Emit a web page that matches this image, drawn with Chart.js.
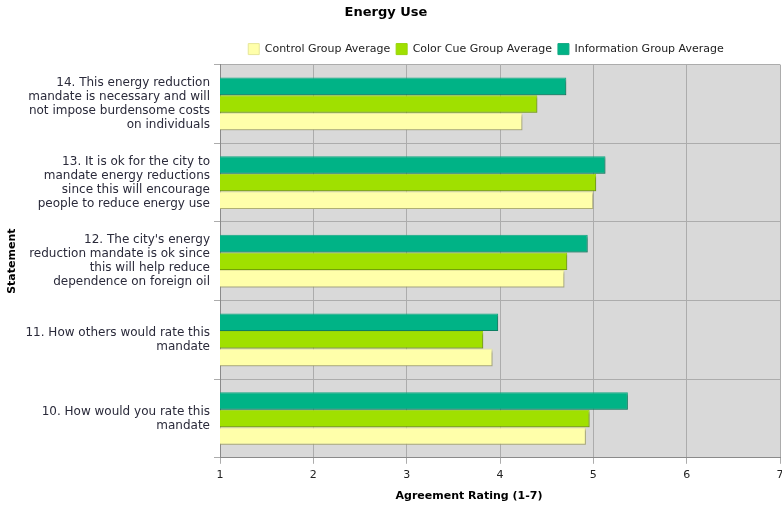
<!DOCTYPE html>
<html>
<head>
<meta charset="utf-8">
<script src="https://cdn.jsdelivr.net/npm/chart.js@4/dist/chart.umd.min.js"></script>
<style>
  html, body { margin: 0; padding: 0; background: #ffffff; }
  #wrap { width: 782px; height: 505px; }
</style>
</head>
<body>
<div id="wrap"><canvas id="c" width="782" height="505"></canvas></div>
<script>
// Categories, top to bottom as shown
const statements = [
  ["14. This energy reduction", "mandate is necessary and will", "not impose burdensome costs", "on individuals"],
  ["13. It is ok for the city to", "mandate energy reductions", "since this will encourage", "people to reduce energy use"],
  ["12. The city's energy", "reduction mandate is ok since", "this will help reduce", "dependence on foreign oil"],
  ["11. How others would rate this", "mandate"],
  ["10. How would you rate this", "mandate"]
];
const seriesNames = ["Control Group Average", "Color Cue Group Average", "Information Group Average"];
const controlAvg     = [4.24, 5.00, 4.69, 3.92, 4.92];
const colorCueAvg    = [4.40, 5.03, 4.72, 3.82, 4.96];
const informationAvg = [4.71, 5.13, 4.94, 3.98, 5.37];
const xTicks = [1, 2, 3, 4, 5, 6, 7];
const xTitle = 'Agreement Rating (1-7)';

const FONT = "'DejaVu Sans', Verdana, sans-serif";

const plotBg = {
  id: 'plotBg',
  beforeDraw(chart) {
    const {ctx, chartArea: a} = chart;
    ctx.save();
    ctx.fillStyle = '#d9d9d9';
    ctx.fillRect(a.left, a.top, a.right - a.left, a.bottom - a.top);
    ctx.restore();
  }
};
const barShadow = {
  id: 'barShadow',
  beforeDatasetsDraw(chart) {
    const ctx = chart.ctx;
    ctx.save();
    ctx.shadowColor = 'rgba(0,0,0,0.28)';
    ctx.shadowOffsetX = 2;
    ctx.shadowOffsetY = 2;
    ctx.shadowBlur = 2;
  },
  afterDatasetsDraw(chart) {
    chart.ctx.restore();
  }
};
// nudge title and legend blocks to where the original placed them
const nudge = {
  id: 'nudge',
  afterLayout(chart) {
    if (chart.titleBlock) { chart.titleBlock.left -= 6; chart.titleBlock.right -= 6; }
    if (chart.legend) { chart.legend.left -= 14; chart.legend.right -= 14; }
  }
};
// x axis title, drawn under the tick labels
const xAxisTitle = {
  id: 'xAxisTitle',
  afterDraw(chart) {
    const ctx = chart.ctx;
    const a = chart.chartArea;
    ctx.save();
    ctx.font = 'bold 11px ' + FONT;
    ctx.fillStyle = '#000';
    ctx.textAlign = 'center';
    ctx.textBaseline = 'middle';
    ctx.fillText(xTitle, (a.left + a.right) / 2 - 31, a.bottom + 38);
    ctx.restore();
  }
};

new Chart(document.getElementById('c'), {
  type: 'bar',
  data: {
    labels: statements,
    datasets: [
      { label: seriesNames[2], data: informationAvg, backgroundColor: '#00b386', borderColor: '#12a883', borderWidth: 1 },
      { label: seriesNames[1], data: colorCueAvg, backgroundColor: '#a0e000', borderColor: '#98d40a', borderWidth: 1 },
      { label: seriesNames[0], data: controlAvg, backgroundColor: '#ffffaa', borderColor: '#e6e69a', borderWidth: 1 }
    ]
  },
  options: {
    indexAxis: 'y',
    responsive: false,
    animation: false,
    devicePixelRatio: 1,
    layout: { padding: { left: 2, right: 0, top: 0, bottom: 18 } },
    datasets: { bar: { barPercentage: 1.0, categoryPercentage: 0.67 } },
    plugins: {
      title: {
        display: true,
        text: 'Energy Use',
        color: '#000',
        font: { family: FONT, size: 13, weight: 'bold' },
        padding: { top: 5, bottom: 17 }
      },
      legend: {
        position: 'top',
        reverse: true,
        fullSize: false,
        labels: {
          color: '#222',
          font: { family: FONT, size: 11 },
          boxWidth: 11,
          boxHeight: 11,
          padding: 6
        }
      },
      tooltip: { enabled: false }
    },
    scales: {
      x: {
        type: 'linear',
        min: 1,
        max: 7,
        afterBuildTicks(axis) { axis.ticks = xTicks.map(v => ({ value: v })); },
        afterFit(axis) { axis.paddingRight = 2; },
        grid: { color: '#acacac', tickLength: 6, drawTicks: true },
        border: { color: '#8a8a8a' },
        ticks: { color: '#222', font: { family: FONT, size: 11 }, padding: 5 },
        title: { display: false }
      },
      y: {
        grid: { color: '#acacac', tickLength: 6, offset: true },
        border: { color: '#8a8a8a' },
        ticks: { color: '#2a2a3a', font: { family: FONT, size: 12, lineHeight: 1.17 }, padding: 4 },
        afterFit(axis) { axis.width = 218; },
        title: {
          display: true,
          text: 'Statement',
          color: '#000',
          font: { family: FONT, size: 11, weight: 'bold' },
          padding: { top: 4, bottom: 0 }
        }
      }
    }
  },
  plugins: [plotBg, barShadow, nudge, xAxisTitle]
});
</script>
</body>
</html>
